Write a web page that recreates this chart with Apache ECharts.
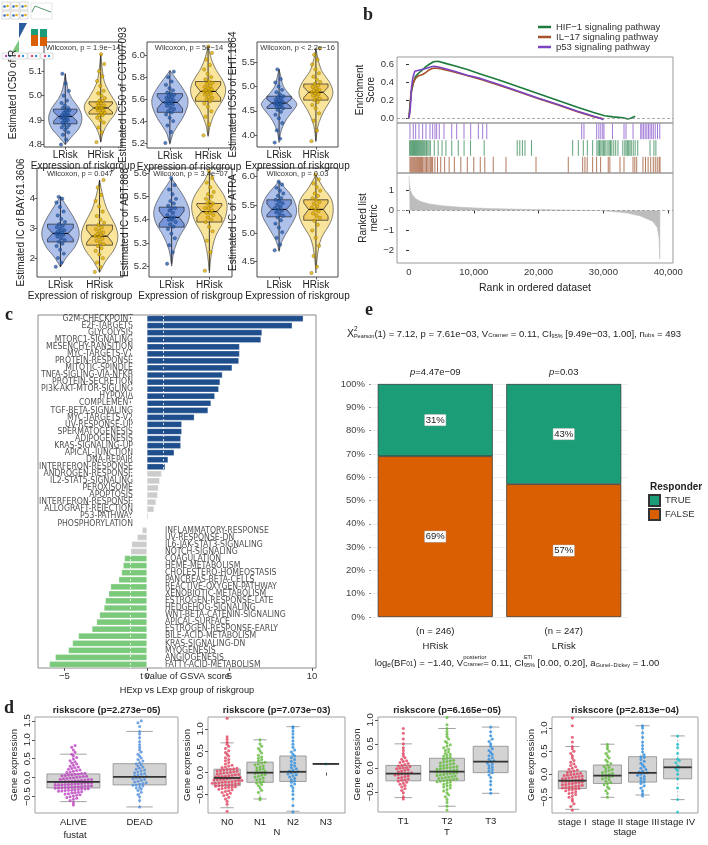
<!DOCTYPE html>
<html>
<head>
<meta charset="utf-8">
<script src="https://cdn.jsdelivr.net/npm/echarts@6/dist/echarts.min.js"></script>
<style>
html, body { margin: 0; padding: 0; background: #fff; }
#main { width: 708px; height: 845px; }
</style>
</head>
<body>
<div id="main"></div>
<script>
// ---------------- panel a : estimated IC50 by risk group ----------------
var riskGroups = ['LRisk', 'HRisk'];
var icYNames = ['Estimated IC50 of R', 'Estimated IC50 of CCT007093', 'Estimated IC50 of EHT.1864',
  'Estimated IC of BAY.61.3606', 'Estimated IC of ABT.888', 'Estimated IC of ATRA'];
var icPvals = ['Wilcoxon, p = 1.9e\u221214', 'Wilcoxon, p = 5e\u221214', 'Wilcoxon, p < 2.2e\u221216',
  'Wilcoxon, p = 0.047', 'Wilcoxon, p = 3.4e\u221207', 'Wilcoxon, p = 0.03'];
var icRanges = [[4.79, 5.22], [5.155, 6.12], [3.76, 5.91], [1.37, 5.0], [5.153, 5.623], [4.23, 6.15]];
var icTicks = [[4.8, 4.9, 5.0, 5.1], [5.2, 5.4, 5.6, 5.8, 6.0], [4.0, 4.5, 5.0, 5.5], [2, 3, 4],
  [5.2, 5.3, 5.4, 5.5, 5.6], [4.5, 5.0, 5.5, 6.0]];
var icDec = [1, 1, 1, 0, 1, 1];
// [lower whisker, q1, median, q3, upper whisker]
var icBoxL = [[4.80, 4.885, 4.915, 4.945, 5.09], [5.20, 5.48, 5.57, 5.65, 5.86], [3.93, 4.55, 4.66, 4.80, 5.35],
  [1.71, 2.54, 2.82, 3.13, 4.04], [5.21, 5.368, 5.41, 5.454, 5.58], [4.70, 5.29, 5.42, 5.59, 5.91]];
var icBoxH = [[4.81, 4.925, 4.95, 4.975, 5.17], [5.27, 5.58, 5.67, 5.76, 6.08], [3.89, 4.72, 4.88, 5.05, 5.78],
  [1.54, 2.43, 2.73, 3.10, 4.60], [5.18, 5.39, 5.435, 5.47, 5.61], [4.41, 5.23, 5.42, 5.59, 6.03]];
// violin outline: [value, half width]
var icViolinL = [
  [[4.80, 0], [4.83, 0.17], [4.87, 0.4], [4.91, 0.47], [4.95, 0.38], [4.99, 0.18], [5.03, 0.07], [5.09, 0]],
  [[5.19, 0], [5.30, 0.1], [5.42, 0.32], [5.52, 0.45], [5.60, 0.47], [5.68, 0.37], [5.78, 0.17], [5.86, 0]],
  [[3.85, 0], [4.10, 0.06], [4.35, 0.22], [4.55, 0.43], [4.65, 0.48], [4.80, 0.32], [5.00, 0.12], [5.20, 0.05], [5.35, 0]],
  [[1.70, 0], [2.00, 0.14], [2.40, 0.38], [2.80, 0.48], [3.20, 0.4], [3.60, 0.22], [4.05, 0]],
  [[5.20, 0], [5.27, 0.07], [5.33, 0.22], [5.39, 0.43], [5.44, 0.47], [5.50, 0.32], [5.55, 0.12], [5.58, 0]],
  [[4.68, 0], [4.85, 0.07], [5.05, 0.24], [5.30, 0.45], [5.45, 0.47], [5.65, 0.35], [5.80, 0.16], [5.92, 0]]
];
var icViolinH = [
  [[4.81, 0], [4.85, 0.07], [4.89, 0.22], [4.93, 0.42], [4.96, 0.46], [5.00, 0.3], [5.05, 0.12], [5.10, 0.05], [5.17, 0]],
  [[5.26, 0], [5.38, 0.07], [5.50, 0.22], [5.60, 0.4], [5.68, 0.46], [5.76, 0.4], [5.86, 0.22], [5.96, 0.09], [6.08, 0]],
  [[3.87, 0], [4.20, 0.06], [4.50, 0.22], [4.75, 0.42], [4.90, 0.46], [5.10, 0.36], [5.30, 0.17], [5.55, 0.06], [5.78, 0]],
  [[1.52, 0], [1.90, 0.16], [2.30, 0.38], [2.70, 0.47], [3.10, 0.4], [3.60, 0.2], [4.10, 0.08], [4.60, 0]],
  [[5.17, 0], [5.25, 0.05], [5.33, 0.17], [5.40, 0.4], [5.46, 0.47], [5.51, 0.37], [5.56, 0.16], [5.61, 0]],
  [[4.30, 0], [4.60, 0.04], [4.90, 0.14], [5.20, 0.4], [5.40, 0.47], [5.60, 0.42], [5.80, 0.2], [6.03, 0]]
];
var icPtsL = [
  [4.80, 4.82, 4.84, 4.85, 4.86, 4.87, 4.87, 4.88, 4.88, 4.89, 4.89, 4.90, 4.90, 4.91, 4.91, 4.91, 4.92, 4.92, 4.92, 4.93, 4.93, 4.94, 4.94, 4.95, 4.95, 4.96, 4.97, 4.98, 5.00, 5.02, 5.05, 5.09],
  [5.20, 5.30, 5.36, 5.40, 5.43, 5.46, 5.48, 5.49, 5.51, 5.52, 5.54, 5.55, 5.56, 5.57, 5.57, 5.58, 5.59, 5.60, 5.61, 5.62, 5.63, 5.64, 5.65, 5.66, 5.68, 5.70, 5.73, 5.76, 5.80, 5.85],
  [3.85, 3.93, 4.10, 4.25, 4.35, 4.42, 4.48, 4.52, 4.55, 4.58, 4.60, 4.62, 4.64, 4.65, 4.66, 4.67, 4.69, 4.71, 4.73, 4.76, 4.78, 4.80, 4.84, 4.88, 4.93, 5.00, 5.08, 5.15, 5.35],
  [1.71, 1.85, 2.00, 2.15, 2.28, 2.40, 2.48, 2.54, 2.60, 2.66, 2.72, 2.77, 2.80, 2.82, 2.85, 2.89, 2.93, 2.98, 3.03, 3.08, 3.13, 3.20, 3.30, 3.42, 3.55, 3.70, 3.85, 3.98, 4.04],
  [5.21, 5.26, 5.29, 5.32, 5.34, 5.36, 5.37, 5.38, 5.39, 5.40, 5.40, 5.41, 5.41, 5.42, 5.43, 5.44, 5.45, 5.45, 5.46, 5.47, 5.48, 5.49, 5.51, 5.53, 5.55, 5.58],
  [4.70, 4.80, 4.92, 5.02, 5.10, 5.17, 5.23, 5.28, 5.31, 5.34, 5.37, 5.40, 5.42, 5.44, 5.47, 5.50, 5.53, 5.56, 5.59, 5.62, 5.66, 5.70, 5.75, 5.80, 5.86, 5.91]
];
var icPtsH = [
  [4.81, 4.85, 4.87, 4.89, 4.90, 4.91, 4.92, 4.92, 4.93, 4.93, 4.94, 4.94, 4.95, 4.95, 4.95, 4.96, 4.96, 4.97, 4.97, 4.98, 4.98, 4.99, 5.00, 5.01, 5.02, 5.04, 5.06, 5.08, 5.10, 5.13, 5.17],
  [5.27, 5.37, 5.44, 5.49, 5.53, 5.56, 5.58, 5.60, 5.61, 5.62, 5.64, 5.65, 5.66, 5.67, 5.67, 5.68, 5.69, 5.70, 5.71, 5.72, 5.74, 5.75, 5.76, 5.78, 5.80, 5.83, 5.87, 5.91, 5.96, 6.02, 6.08],
  [3.88, 4.10, 4.30, 4.45, 4.55, 4.62, 4.68, 4.72, 4.75, 4.78, 4.81, 4.84, 4.86, 4.88, 4.89, 4.91, 4.93, 4.96, 4.99, 5.02, 5.05, 5.09, 5.14, 5.20, 5.27, 5.35, 5.45, 5.55, 5.65, 5.78],
  [1.54, 1.70, 1.85, 2.00, 2.12, 2.24, 2.33, 2.40, 2.46, 2.52, 2.58, 2.64, 2.70, 2.73, 2.76, 2.80, 2.85, 2.90, 2.96, 3.02, 3.10, 3.18, 3.28, 3.40, 3.55, 3.72, 3.90, 4.10, 4.35, 4.60],
  [5.18, 5.26, 5.31, 5.35, 5.37, 5.39, 5.40, 5.41, 5.42, 5.43, 5.43, 5.44, 5.45, 5.45, 5.46, 5.47, 5.47, 5.48, 5.49, 5.50, 5.51, 5.52, 5.54, 5.56, 5.58, 5.61],
  [4.30, 4.41, 4.60, 4.78, 4.92, 5.05, 5.15, 5.22, 5.27, 5.31, 5.35, 5.39, 5.42, 5.45, 5.48, 5.52, 5.55, 5.59, 5.62, 5.66, 5.70, 5.75, 5.81, 5.88, 5.95, 6.03]
];

// ---------------- panel b : GSEA ----------------
var gseaNames = ['HIF\u22121 signaling pathway', 'IL\u221217 signaling pathway', 'p53 signaling pathway'];
var esHIF = [[0, 0], [150, 0.15], [400, 0.30], [700, 0.40], [1000, 0.46], [1500, 0.50], [2000, 0.53], [2600, 0.57],
  [3200, 0.60], [3800, 0.625], [4500, 0.63], [5500, 0.61], [7000, 0.58], [9000, 0.54], [11000, 0.49], [14000, 0.42],
  [17000, 0.345], [20000, 0.27], [23000, 0.195], [26000, 0.12], [28500, 0.06], [30200, 0.025], [31500, 0.012],
  [33000, 0.002], [33800, -0.012], [34300, 0.0], [34900, 0.02]];
var esIL17 = [[0, 0], [150, 0.10], [300, 0.28], [600, 0.38], [1000, 0.44], [1500, 0.47], [2000, 0.48], [2500, 0.50],
  [3000, 0.53], [3600, 0.55], [4200, 0.555], [5000, 0.545], [6500, 0.52], [8500, 0.48], [11000, 0.43], [14000, 0.36],
  [17000, 0.29], [20000, 0.215], [23000, 0.145], [26000, 0.07], [28500, 0.015], [30000, -0.01]];
var esP53 = [[0, 0], [200, 0.10], [400, 0.35], [600, 0.45], [900, 0.52], [1200, 0.54], [2000, 0.54], [2600, 0.55],
  [3200, 0.565], [3800, 0.575], [4400, 0.57], [5500, 0.55], [7000, 0.52], [9000, 0.475], [11000, 0.44], [14000, 0.37],
  [17000, 0.295], [20000, 0.22], [23000, 0.15], [26000, 0.075], [28500, 0.02], [29600, -0.005], [30000, -0.02]];
var hitsHIF = [100, 250, 400, 550, 700, 850, 1000, 1150, 1300, 1450, 1600, 1750, 1900, 2050, 2200, 2350, 2500, 2700, 2900,
  3100, 3300, 3900, 4500, 5100, 5700, 6600, 7600, 8500, 9500, 11600, 16700, 17100, 17500, 17900, 18900, 25260, 26130,
  26900, 27520, 28340, 29000, 29200, 29400, 29600, 29800, 30000, 30200, 30400, 30700, 30900, 31100, 31300, 31600, 31900,
  32250, 33000, 33300, 33500, 33700, 33900, 34100, 34300, 34600, 34900, 35300, 37200, 37800, 38100];
var hitsIL17 = [150, 300, 450, 600, 750, 900, 1050, 1200, 1350, 1500, 1650, 1800, 1950, 2100, 2300, 2500, 2700, 2900, 3100,
  3300, 3500, 3650, 4000, 4400, 4900, 5500, 6200, 7000, 8000, 9000, 10000, 11000, 11700, 13000, 14970, 19600, 24580,
  26800, 27150, 27500, 28340, 28950, 29570, 30750, 31000, 32560, 33180, 34570, 34850, 35140, 36110, 36500, 36900, 37300,
  37700, 38000, 38300, 38600, 38740];
var hitsP53 = [150, 660, 1030, 1540, 2110, 2620, 3240, 3650, 4010, 4270, 4680, 5400, 6590, 7360, 8490, 9520, 10700, 11370,
  12000, 26650, 27000, 28960, 29300, 29600, 29900, 30090, 31400, 33180, 33490, 34570, 35760, 35950, 36200, 36450, 36700,
  36950, 37200, 37450, 37700, 38000, 38350, 38700];
var rankedMetric = [[0, 1.72], [30, 1.5], [100, 1.25], [250, 1.0], [500, 0.8], [1000, 0.6], [1800, 0.45], [3000, 0.34],
  [5000, 0.24], [8000, 0.16], [12000, 0.10], [17000, 0.06], [22000, 0.03], [26000, 0.01], [29000, 0], [31000, -0.04],
  [33500, -0.12], [35600, -0.27], [37600, -0.55], [38300, -0.85], [38600, -1.4], [38700, -2.45], [38720, 0]];
var rankTicks = [0, 10000, 20000, 30000, 40000];
var esTicks = [0, 0.2, 0.4, 0.6];
var metricTicks = [-2, -1, 0, 1];

// ---------------- panel c : GSVA t values ----------------
var hallmarkNames = ['G2M-CHECKPOINT', 'E2F-TARGETS', 'GLYCOLYSIS', 'MTORC1-SIGNALING', 'MESENCHY-RANSITION',
  'MYC-TARGETS-V1', 'PROTEIN-RESPONSE', 'MITOTIC-SPINDLE', 'TNFA-SIGLING-VIA-NFKB', 'PROTEIN-SECRETION',
  'PI3K-AKT-MTOR-SIGLING', 'HYPOXIA', 'COMPLEMENT', 'TGF-BETA-SIGNALING', 'MYC-TARGETS-V2', 'UV-RESPONSE-UP',
  'SPERMATOGENESIS', 'ADIPOGENESIS', 'KRAS-SIGNALING-UP', 'APICAL-JUNCTION', 'DNA-REPAIR', 'INTERFERON-RESPONSE',
  'ANDROGEN-RESPONSE', 'IL2-STAT5-SIGNALING', 'PEROXISOME', 'APOPTOSIS', 'INTERFERON-RESPONSE ', 'ALLOGRAFT-REJECTION',
  'P53-PATHWAY', 'PHOSPHORYLATION', 'INFLAMMATORY-RESPONSE', 'UV-RESPONSE-DN', 'IL6-JAK-STAT3-SIGNALING',
  'NOTCH-SIGNALING', 'COAGULATION', 'HEME-METABOLISM', 'CHOLESTERO-HOMEOSTASIS', 'PANCREAS-BETA-CELLS',
  'REACTIVE-OXYGEN-PATHWAY', 'XENOBIOTIC-METABOLISM', 'ESTROGEN-RESPONSE-LATE', 'HEDGEHOG-SIGNALING',
  'WNT-BETA-CATENIN-SIGNALING', 'APICAL-SURFACE', 'ESTROGEN-RESPONSE-EARLY', 'BILE-ACID-METABOLISM',
  'KRAS-SIGNALING-DN', 'MYOGENESIS', 'ANGIOGENESIS', 'FATTY-ACID-METABOLISM'];
var hallmarkT = [9.47, 8.80, 6.97, 6.91, 5.61, 5.61, 5.57, 5.16, 4.57, 4.43, 4.35, 4.11, 3.88, 3.70, 2.87, 2.11, 2.11,
  2.05, 2.05, 1.65, 1.28, 1.10, 0.89, 0.77, 0.69, 0.65, 0.55, 0.43, 0.08, 0.03, -0.29, -0.59, -0.93, -0.98, -1.36,
  -1.44, -1.54, -1.71, -2.20, -2.32, -2.52, -2.60, -2.87, -3.05, -3.33, -4.15, -4.51, -4.76, -5.55, -5.91];
var tCutoff = 1;
var tTicks = [-5, 0, 5, 10];

// ---------------- panel e : responder proportions ----------------
var eGroups = ['HRisk', 'LRisk'];
var eN = [246, 247];
var eTrue = [31, 43];
var eFalse = [69, 57];
var eP = ['4.47e\u221209', '0.03'];

// ---------------- panel d : riskscore by clinical group ----------------
var dTitles = ['riskscore (p=2.273e\u221205)', 'riskscore (p=7.073e\u221203)', 'riskscore (p=6.165e\u221205)', 'riskscore (p=2.813e\u221204)'];
var dXNames = ['fustat', 'N', 'T', 'stage'];
var dGroups = [['ALIVE', 'DEAD'], ['N0', 'N1', 'N2', 'N3'], ['T1', 'T2', 'T3'], ['stage I', 'stage II', 'stage III', 'stage IV']];
var dRanges = [[-0.93, 1.6], [-0.92, 1.27], [-0.92, 1.06], [-0.84, 1.24]];
var dTicks = [[-0.5, 0, 0.5, 1, 1.5], [-0.5, 0, 0.5, 1], [-0.5, 0, 0.5, 1], [-0.5, 0, 0.5, 1]];
var dBox = [
  [[-0.63, -0.27, -0.11, 0.10, 0.62], [-0.77, -0.19, 0.02, 0.37, 1.22]],
  [[-0.80, -0.30, -0.12, 0.08, 0.68], [-0.60, -0.22, 0.0, 0.24, 0.75], [-0.88, -0.20, 0.02, 0.38, 1.05], [0.2, 0.2, 0.2, 0.2, 0.2]],
  [[-0.62, -0.27, -0.12, 0.05, 0.50], [-0.80, -0.27, -0.08, 0.20, 0.82], [-0.53, -0.10, 0.13, 0.45, 0.85]],
  [[-0.76, -0.31, -0.14, 0.07, 0.60], [-0.50, -0.20, -0.03, 0.20, 0.65], [-0.45, -0.17, 0.03, 0.38, 1.05], [-0.55, -0.10, 0.15, 0.33, 0.83]]
];
var alive = [-0.95, -0.72, -0.66, -0.6, -0.57, -0.54, -0.52, -0.5, -0.48, -0.46, -0.45, -0.43, -0.42, -0.4, -0.39, -0.38,
  -0.37, -0.36, -0.35, -0.34, -0.33, -0.33, -0.32, -0.31, -0.3, -0.3, -0.29, -0.28, -0.28, -0.27, -0.26, -0.26, -0.25,
  -0.24, -0.24, -0.23, -0.22, -0.22, -0.21, -0.2, -0.2, -0.19, -0.18, -0.18, -0.17, -0.16, -0.16, -0.15, -0.14, -0.14,
  -0.13, -0.12, -0.12, -0.11, -0.1, -0.1, -0.09, -0.08, -0.08, -0.07, -0.06, -0.05, -0.05, -0.04, -0.03, -0.02, -0.01,
  0, 0.01, 0.02, 0.03, 0.04, 0.05, 0.06, 0.07, 0.08, 0.09, 0.1, 0.11, 0.12, 0.14, 0.15, 0.17, 0.19, 0.2, 0.22, 0.24,
  0.26, 0.28, 0.3, 0.33, 0.36, 0.39, 0.42, 0.45, 0.49, 0.53, 0.57, 0.62, 0.67, 0.73, 0.8, 0.85];
var dead = [-0.77, -0.6, -0.5, -0.44, -0.38, -0.34, -0.3, -0.27, -0.25, -0.22, -0.2, -0.19, -0.17, -0.15, -0.13, -0.11,
  -0.09, -0.07, -0.05, -0.03, -0.01, 0, 0.02, 0.03, 0.05, 0.07, 0.09, 0.11, 0.13, 0.15, 0.18, 0.2, 0.22, 0.25, 0.28,
  0.31, 0.34, 0.37, 0.4, 0.44, 0.48, 0.52, 0.57, 0.62, 0.68, 0.74, 0.8, 0.87, 0.95, 1.05, 1.15, 1.22, 1.35, 1.45, 1.5];
var n0 = [-0.88, -0.72, -0.65, -0.6, -0.56, -0.52, -0.5, -0.47, -0.45, -0.43, -0.41, -0.39, -0.38, -0.36, -0.35, -0.34,
  -0.33, -0.32, -0.31, -0.3, -0.29, -0.28, -0.28, -0.27, -0.26, -0.25, -0.24, -0.24, -0.23, -0.22, -0.21, -0.21, -0.2,
  -0.19, -0.18, -0.18, -0.17, -0.16, -0.15, -0.15, -0.14, -0.13, -0.12, -0.12, -0.11, -0.1, -0.09, -0.09, -0.08, -0.07,
  -0.06, -0.05, -0.04, -0.03, -0.02, -0.01, 0, 0.01, 0.02, 0.03, 0.04, 0.05, 0.06, 0.07, 0.08, 0.09, 0.1, 0.12, 0.13,
  0.15, 0.17, 0.2, 0.23, 0.27, 0.3, 0.34, 0.38, 0.42, 0.46, 0.5, 0.55, 0.6, 0.65, 0.7, 0.76, 0.82, 1.24];
var n1 = [-0.62, -0.58, -0.45, -0.4, -0.35, -0.3, -0.27, -0.24, -0.22, -0.2, -0.17, -0.15, -0.12, -0.1, -0.08, -0.06,
  -0.04, -0.02, 0, 0.01, 0.03, 0.05, 0.07, 0.09, 0.11, 0.13, 0.15, 0.18, 0.2, 0.22, 0.24, 0.27, 0.3, 0.33, 0.36, 0.4,
  0.45, 0.5, 0.55, 0.6, 0.66, 0.75];
var n2 = [-0.9, -0.75, -0.6, -0.5, -0.42, -0.35, -0.3, -0.26, -0.22, -0.19, -0.16, -0.13, -0.1, -0.07, -0.05, -0.03,
  -0.01, 0.01, 0.02, 0.04, 0.06, 0.09, 0.12, 0.15, 0.18, 0.22, 0.26, 0.3, 0.34, 0.38, 0.42, 0.47, 0.52, 0.58, 0.65,
  0.72, 0.8, 0.88, 0.95, 1.02, 1.05];
var n3 = [0.2];
var t1 = [-0.65, -0.6, -0.52, -0.47, -0.43, -0.4, -0.37, -0.34, -0.32, -0.3, -0.28, -0.26, -0.25, -0.23, -0.21, -0.2,
  -0.18, -0.17, -0.15, -0.14, -0.13, -0.12, -0.11, -0.1, -0.08, -0.07, -0.05, -0.04, -0.02, -0.01, 0, 0.01, 0.03, 0.04,
  0.05, 0.07, 0.09, 0.11, 0.13, 0.15, 0.18, 0.21, 0.25, 0.3, 0.36, 0.42, 0.5, 0.6, 0.72, 0.82];
var t2 = [-0.88, -0.8, -0.72, -0.66, -0.6, -0.56, -0.52, -0.48, -0.45, -0.42, -0.4, -0.38, -0.36, -0.34, -0.32, -0.3,
  -0.29, -0.28, -0.27, -0.26, -0.25, -0.24, -0.23, -0.22, -0.21, -0.2, -0.19, -0.18, -0.17, -0.16, -0.15, -0.14, -0.13,
  -0.12, -0.11, -0.1, -0.09, -0.08, -0.08, -0.07, -0.06, -0.05, -0.04, -0.03, -0.02, -0.01, 0, 0.01, 0.02, 0.03, 0.04,
  0.05, 0.06, 0.08, 0.09, 0.1, 0.12, 0.13, 0.15, 0.16, 0.18, 0.2, 0.22, 0.24, 0.26, 0.28, 0.3, 0.33, 0.36, 0.39, 0.42,
  0.45, 0.48, 0.52, 0.55, 0.6, 0.65, 0.7, 0.76, 0.82, 0.9, 1.05];
var t3 = [-0.53, -0.45, -0.35, -0.28, -0.2, -0.15, -0.1, -0.07, -0.04, -0.01, 0.02, 0.05, 0.08, 0.1, 0.13, 0.15, 0.18,
  0.21, 0.25, 0.28, 0.32, 0.36, 0.4, 0.45, 0.5, 0.55, 0.6, 0.67, 0.75, 0.85];
var stage1 = [-0.78, -0.7, -0.64, -0.58, -0.54, -0.5, -0.47, -0.44, -0.42, -0.4, -0.38, -0.36, -0.34, -0.33, -0.32,
  -0.31, -0.3, -0.29, -0.28, -0.27, -0.26, -0.25, -0.24, -0.23, -0.22, -0.21, -0.2, -0.19, -0.18, -0.17, -0.16, -0.16,
  -0.15, -0.14, -0.13, -0.12, -0.11, -0.1, -0.09, -0.08, -0.07, -0.06, -0.05, -0.04, -0.03, -0.02, -0.01, 0, 0.01, 0.02,
  0.04, 0.05, 0.07, 0.09, 0.11, 0.13, 0.16, 0.19, 0.22, 0.26, 0.3, 0.35, 0.4, 0.45, 0.5, 0.55, 0.6, 0.7, 0.8, 1.05, 1.22];
var stage2 = [-0.5, -0.42, -0.36, -0.31, -0.27, -0.23, -0.2, -0.18, -0.15, -0.12, -0.1, -0.08, -0.06, -0.04, -0.03,
  -0.01, 0, 0.02, 0.04, 0.06, 0.08, 0.1, 0.12, 0.15, 0.17, 0.2, 0.23, 0.27, 0.31, 0.35, 0.4, 0.45, 0.5, 0.55, 0.6, 0.65];
var stage3 = [-0.47, -0.42, -0.36, -0.3, -0.25, -0.2, -0.17, -0.14, -0.11, -0.08, -0.05, -0.02, 0, 0.02, 0.03, 0.05,
  0.07, 0.1, 0.13, 0.16, 0.2, 0.24, 0.28, 0.32, 0.36, 0.38, 0.42, 0.48, 0.55, 0.62, 0.7, 0.8, 0.9, 1.0, 1.05];
var stage4 = [-0.82, -0.55, -0.3, -0.1, 0.0, 0.08, 0.12, 0.15, 0.18, 0.25, 0.3, 0.33, 0.45, 0.58, 0.65, 0.83];
var dPts = [[alive, dead], [n0, n1, n2, n3], [t1, t2, t3], [stage1, stage2, stage3, stage4]];

// ================= build chart =================
var FONT = '"Liberation Sans", Arial, sans-serif';
var NARROW = '"Liberation Sans Narrow", "DejaVu Sans Condensed", "Liberation Sans", sans-serif';
var INK = '#222';
var grid = [], xAxis = [], yAxis = [], series = [], graphic = [];

function minus(v, d) { return (v < 0 ? '\u2212' : '') + Math.abs(v).toFixed(d); }
function addGrid(l, t, w, h, border) {
  grid.push({ left: l, top: t, width: w, height: h, show: !!border, borderColor: border || 'transparent',
    borderWidth: 1, backgroundColor: 'transparent', outerBoundsMode: 'none', containLabel: false });
  return grid.length - 1;
}
// axis push helpers return the index of the axis in its own list
function addX(o) { xAxis.push(o); return xAxis.length - 1; }
function addY(o) { yAxis.push(o); return yAxis.length - 1; }
function txt(x, y, s, size, opt) {
  opt = opt || {};
  graphic.push({ type: 'text', x: x, y: y, rotation: opt.rot || 0, z: 50, silent: true,
    style: { text: s, fontSize: size, fontFamily: opt.font || FONT, fontWeight: opt.bold ? 'bold' : 'normal',
      fontStyle: opt.italic ? 'italic' : 'normal', fill: opt.color || INK,
      textAlign: opt.align || 'center', textVerticalAlign: 'middle' } });
}
var mctx = document.createElement('canvas').getContext('2d');
function textW(s, size) { mctx.font = size + 'px "Liberation Sans"'; return mctx.measureText(s).width; }
// text line built from fragments (sub/superscripts)
function segLine(cx, y, segs) {
  var total = 0;
  segs.forEach(function (s) { if (!s.over) total += textW(s.t, s.s); });
  var x = cx - total / 2;
  segs.forEach(function (s) {
    txt(x, y + (s.dy || 0), s.t, s.s, { align: 'left', italic: s.it });
    if (!s.over) x += textW(s.t, s.s);
  });
}

// ----- panel a -----
var icPos = [[44, 42, 78, 105, 26], [147, 42, 84, 106, 12], [257, 42, 81, 105, 11],
  [37, 168, 86, 109, 9], [149, 168, 83, 109, 14], [257, 168, 81, 109, 12]];
var icFill = [{ vio: 'rgba(160,182,232,0.85)', box: 'rgba(104,138,214,0.8)', pt: '#2a62b2', edge: '#0c2a58' },
  { vio: 'rgba(250,226,146,0.9)', box: 'rgba(240,200,86,0.85)', pt: '#e3b300', edge: '#6a5100' }];

icYNames.forEach(function (name, i) {
  var p = icPos[i];
  var g = addGrid(p[0], p[1], p[2], p[3], '#4a4a4a');
  var xi = addX({ gridIndex: g, type: 'value', min: 0.4, max: 2.6, splitLine: { show: false }, axisLine: { show: false },
    axisTick: { show: true, customValues: [1, 2], length: 2.5, lineStyle: { color: '#333', width: 0.8 } },
    axisLabel: { customValues: [1, 2], formatter: function (v) { return riskGroups[Math.round(v) - 1]; },
      fontSize: 10, color: INK, margin: 3, fontFamily: FONT },
    name: 'Expression of riskgroup', nameLocation: 'middle', nameGap: 13,
    nameTextStyle: { fontSize: 10, color: INK, fontFamily: FONT } });
  var yi = addY({ gridIndex: g, type: 'value', min: icRanges[i][0], max: icRanges[i][1], splitLine: { show: false },
    axisLine: { show: false },
    axisTick: { show: true, customValues: icTicks[i], length: 2.5, lineStyle: { color: '#333', width: 0.8 } },
    axisLabel: { customValues: icTicks[i], formatter: function (v) { return v.toFixed(icDec[i]); },
      fontSize: 9.5, color: '#333', margin: 2, fontFamily: FONT },
    name: name, nameLocation: 'middle', nameGap: p[4], nameTextStyle: { fontSize: 10, color: INK, fontFamily: FONT } });

  var profiles = [icViolinL[i], icViolinH[i]];
  var stats = [icBoxL[i], icBoxH[i]];
  series.push({ type: 'custom', xAxisIndex: xi, yAxisIndex: yi, silent: true, z: 1, clip: true,
    data: [[1, stats[0][2]], [2, stats[1][2]]],
    renderItem: function (params, api) {
      var prof = profiles[params.dataIndex], cx = api.value(0), pts = [], k;
      for (k = 0; k < prof.length; k++) pts.push(api.coord([cx + prof[k][1], prof[k][0]]));
      for (k = prof.length - 1; k >= 0; k--) pts.push(api.coord([cx - prof[k][1], prof[k][0]]));
      return { type: 'polygon', shape: { points: pts, smooth: 0.35 },
        style: { fill: icFill[params.dataIndex].vio, stroke: '#333', lineWidth: 0.6 } };
    } });
  series.push({ type: 'custom', xAxisIndex: xi, yAxisIndex: yi, silent: true, z: 2, clip: true,
    data: [[1, stats[0][2]], [2, stats[1][2]]],
    renderItem: function (params, api) {
      var s = stats[params.dataIndex], cx = api.value(0), w = 0.33, nw = 0.2;
      var notch = (s[3] - s[1]) * 0.32;
      var c = function (dx, v) { return api.coord([cx + dx, v]); };
      var poly = [c(-w, s[1]), c(w, s[1]), c(w, s[2] - notch), c(nw, s[2]), c(w, s[2] + notch), c(w, s[3]),
        c(-w, s[3]), c(-w, s[2] + notch), c(-nw, s[2]), c(-w, s[2] - notch)];
      var top = c(0, s[4]), bot = c(0, s[0]), m1 = c(-nw, s[2]), m2 = c(nw, s[2]);
      return { type: 'group', children: [
        { type: 'line', shape: { x1: top[0], y1: top[1], x2: bot[0], y2: bot[1] }, style: { stroke: '#111', lineWidth: 0.8 } },
        { type: 'polygon', shape: { points: poly }, style: { fill: icFill[params.dataIndex].box, stroke: '#222', lineWidth: 0.7 } },
        { type: 'line', shape: { x1: m1[0], y1: m1[1], x2: m2[0], y2: m2[1] }, style: { stroke: '#111', lineWidth: 1.2 } }
      ] };
    } });
  var pts = [];
  [icPtsL[i], icPtsH[i]].forEach(function (arr, gi) {
    arr.forEach(function (v, k) {
      pts.push({ value: [gi + 1 + ((k * 0.618034) % 1 - 0.5) * 0.24, v],
        itemStyle: { color: icFill[gi].pt, borderColor: icFill[gi].edge, borderWidth: 0.4 } });
    });
  });
  series.push({ type: 'scatter', xAxisIndex: xi, yAxisIndex: yi, silent: true, z: 3, symbolSize: 3.4, data: pts });
  txt(p[0] + p[2] / 2, p[1] + 6, icPvals[i], 7.5, { color: '#333' });
});

// ----- panel b -----
var rankMin = -1850, rankMax = 40740;
var gEs = addGrid(397, 57, 276, 66, '#9a9a9a');
var gHit = addGrid(397, 123, 276, 50, '#9a9a9a');
var gMet = addGrid(397, 173, 276, 90, '#9a9a9a');
var xEs = addX({ gridIndex: gEs, type: 'value', min: rankMin, max: rankMax, show: false });
var xHit = addX({ gridIndex: gHit, type: 'value', min: rankMin, max: rankMax, show: false });
var xMet = addX({ gridIndex: gMet, type: 'value', min: rankMin, max: rankMax, splitLine: { show: false },
  axisLine: { show: false },
  axisTick: { show: true, customValues: rankTicks, length: 3, lineStyle: { color: '#333' } },
  axisLabel: { customValues: rankTicks, fontSize: 9.5, color: '#333', margin: 4, fontFamily: FONT },
  name: 'Rank in ordered dataset', nameLocation: 'middle', nameGap: 20,
  nameTextStyle: { fontSize: 10.5, color: INK, fontFamily: FONT } });
var yEs = addY({ gridIndex: gEs, type: 'value', min: -0.056, max: 0.678, splitLine: { show: false }, axisLine: { show: false },
  axisTick: { show: true, customValues: esTicks, length: 3, lineStyle: { color: '#333' } },
  axisLabel: { customValues: esTicks, formatter: function (v) { return v.toFixed(1); }, fontSize: 9.5, color: '#333', margin: 3, fontFamily: FONT },
  name: 'Enrichment\nScore', nameLocation: 'middle', nameGap: 16,
  nameTextStyle: { fontSize: 10, color: INK, lineHeight: 11, fontFamily: FONT } });
var yHit = addY({ gridIndex: gHit, type: 'value', min: 0, max: 3, show: false });
var yMet = addY({ gridIndex: gMet, type: 'value', min: -2.65, max: 1.89, splitLine: { show: false }, axisLine: { show: false },
  axisTick: { show: true, customValues: metricTicks, length: 3, lineStyle: { color: '#333' } },
  axisLabel: { customValues: metricTicks, formatter: function (v) { return minus(v, 0); }, fontSize: 9.5, color: '#333', margin: 3, fontFamily: FONT },
  name: 'Ranked list\nmetric', nameLocation: 'middle', nameGap: 16,
  nameTextStyle: { fontSize: 10, color: INK, lineHeight: 11, fontFamily: FONT } });

var gseaColors = ['#1c7a3c', '#a4522a', '#7b45c2'];
var zeroLine = { silent: true, symbol: ['none', 'none'], label: { show: false },
  lineStyle: { type: [3, 2], color: '#888', width: 0.7 }, data: [{ yAxis: 0 }] };
[esHIF, esIL17, esP53].forEach(function (d, k) {
  series.push({ type: 'line', name: gseaNames[k], xAxisIndex: xEs, yAxisIndex: yEs, data: d, showSymbol: false,
    symbol: 'none', silent: true, z: 3 + k, color: gseaColors[k], lineStyle: { width: 1.6, color: gseaColors[k] },
    markLine: k === 0 ? zeroLine : undefined });
});
var hitRows = [];
hitsIL17.forEach(function (r) { hitRows.push([r, 0]); });
hitsHIF.forEach(function (r) { hitRows.push([r, 1]); });
hitsP53.forEach(function (r) { hitRows.push([r, 2]); });
var hitColors = ['#9c4f2a', '#2e8550', '#8450cc'];
series.push({ type: 'custom', xAxisIndex: xHit, yAxisIndex: yHit, silent: true, clip: true, data: hitRows,
  renderItem: function (params, api) {
    var r = api.value(1), a = api.coord([api.value(0), r + 0.03]), b = api.coord([api.value(0), r + 0.97]);
    return { type: 'line', shape: { x1: a[0], y1: a[1], x2: b[0], y2: b[1] },
      style: { stroke: hitColors[r], lineWidth: 0.9, opacity: 0.85 } };
  } });
series.push({ type: 'line', xAxisIndex: xMet, yAxisIndex: yMet, data: rankedMetric, showSymbol: false, symbol: 'none',
  silent: true, lineStyle: { width: 0.6, color: '#bdbdbd' }, areaStyle: { color: '#bdbdbd', opacity: 1 },
  markLine: zeroLine });

// ----- panel c -----
var gC = addGrid(38, 315, 278, 353, '#8a8a8a');
var xC = addX({ gridIndex: gC, type: 'value', min: -6.6, max: 10.24, splitLine: { show: false }, axisLine: { show: false },
  axisTick: { show: true, customValues: tTicks, length: 3, lineStyle: { color: '#555' } },
  axisLabel: { customValues: tTicks, formatter: function (v) { return minus(v, 0); }, fontSize: 9.5, color: '#333', margin: 3, fontFamily: FONT } });
var yC = addY({ gridIndex: gC, type: 'category', data: hallmarkNames, inverse: true, show: false });
series.push({ type: 'bar', xAxisIndex: xC, yAxisIndex: yC, silent: true, barCategoryGap: '12%',
  data: hallmarkT.map(function (t) {
    return { value: t, itemStyle: { color: t >= tCutoff ? '#1f4e8d' : (t <= -tCutoff ? '#7bc97b' : '#cccccc') } };
  }),
  itemStyle: { borderColor: 'rgba(255,255,255,0.5)', borderWidth: 0.5 },
  markLine: { silent: true, symbol: ['none', 'none'], label: { show: false },
    lineStyle: { color: '#fff', type: [2, 2], width: 0.8 }, data: [{ xAxis: tCutoff }, { xAxis: -tCutoff }] } });
var cLab = { fontSize: 8.6, color: INK, fontFamily: NARROW };
series.push({ type: 'scatter', xAxisIndex: xC, yAxisIndex: yC, silent: true, symbolSize: 0,
  data: hallmarkNames.filter(function (n, i) { return hallmarkT[i] > 0; }).map(function (n) { return [0, n]; }),
  label: Object.assign({ show: true, position: 'left', distance: 14, formatter: function (p) { return p.value[1].trim(); } }, cLab) });
series.push({ type: 'scatter', xAxisIndex: xC, yAxisIndex: yC, silent: true, symbolSize: 0,
  data: hallmarkNames.filter(function (n, i) { return hallmarkT[i] < 0; }).map(function (n) { return [0, n]; }),
  label: Object.assign({ show: true, position: 'right', distance: 18, formatter: function (p) { return p.value[1].trim(); } }, cLab) });
txt(185, 676, 't value of GSVA score', 9.2);
txt(187, 690, 'HExp vs LExp group of riskgroup', 9.2);

// ----- panel e -----
var gE = addGrid(371, 384, 257, 233, null);
var xE = addX({ gridIndex: gE, type: 'category', data: eGroups, axisLine: { show: false }, axisTick: { show: false },
  axisLabel: { formatter: function (v, idx) { return '(n = ' + eN[idx] + ')\n' + v; }, lineHeight: 15, fontSize: 9.5,
    color: INK, margin: 7, fontFamily: FONT } });
addX({ gridIndex: gE, type: 'category', position: 'top', data: eGroups, axisLine: { show: false }, axisTick: { show: false },
  axisLabel: { formatter: function (v, idx) { return '{i|p}=' + eP[idx]; }, fontSize: 9.5, color: INK, margin: 7,
    fontFamily: FONT, rich: { i: { fontStyle: 'italic', fontSize: 9.5, fontFamily: FONT } } } });
var yE = addY({ gridIndex: gE, type: 'value', min: 0, max: 100, interval: 10, axisLine: { show: false },
  axisTick: { show: true, length: 2, lineStyle: { color: '#999' } },
  axisLabel: { formatter: '{value}%', fontSize: 9.5, color: '#444', margin: 6, fontFamily: FONT },
  splitLine: { show: true, lineStyle: { color: '#e6e6e6', width: 0.7 } },
  minorTick: { show: false, splitNumber: 2 }, minorSplitLine: { show: true, lineStyle: { color: '#f3f3f3', width: 0.5 } } });
var eLabel = { show: true, position: 'inside', formatter: '{c}%', fontSize: 9.5, color: INK, fontFamily: FONT,
  backgroundColor: '#fff', padding: [1, 1, 0, 1], borderColor: '#aaa', borderWidth: 0.4 };
series.push({ type: 'bar', name: 'FALSE', xAxisIndex: xE, yAxisIndex: yE, stack: 'resp', barWidth: 115, data: eFalse,
  silent: true, color: '#d95f02', itemStyle: { color: '#d95f02', borderColor: '#333', borderWidth: 0.7 }, label: eLabel });
series.push({ type: 'bar', name: 'TRUE', xAxisIndex: xE, yAxisIndex: yE, stack: 'resp', barWidth: 115, data: eTrue,
  silent: true, color: '#1b9e77', itemStyle: { color: '#1b9e77', borderColor: '#333', borderWidth: 0.7 }, label: eLabel });
txt(650, 487, 'Responder', 10, { bold: true, align: 'left' });
segLine(514, 334, [{ t: 'X', s: 10.5 }, { t: '2', s: 6.5, dy: -5, over: true }, { t: 'Pearson', s: 5.5, dy: 2.5 },
  { t: '(1) = 7.12, p = 7.61e\u221203, V', s: 9.5 }, { t: 'Cramer', s: 6, dy: 1.5 }, { t: ' = 0.11, CI', s: 9.5 },
  { t: '95%', s: 5.5, dy: 2 }, { t: ' [9.49e\u221203, 1.00], n', s: 9.5 }, { t: 'obs', s: 6, dy: 1.5 }, { t: ' = 493', s: 9.5 }]);
segLine(517, 663, [{ t: 'log', s: 9.5 }, { t: 'e', s: 6.5, dy: 2 }, { t: '(BF', s: 9.5 }, { t: '01', s: 6.5, dy: 1 },
  { t: ') = \u22121.40, V', s: 9.5 }, { t: 'posterior', s: 6, dy: -6, over: true }, { t: 'Cramer', s: 6, dy: 1.5 },
  { t: '= 0.11, CI', s: 9.5 }, { t: 'ETI', s: 5.5, dy: -6, over: true }, { t: '95%', s: 5.5, dy: 2 },
  { t: ' [0.00, 0.20], a', s: 9.5 }, { t: 'Gunel\u2212Dickey', s: 5.5, dy: 2 }, { t: ' = 1.00', s: 9.5 }]);

// ----- panel d -----
var dPos = [[35, 717, 143, 96], [208, 717, 137, 96], [378, 717, 138, 95], [552, 717, 146, 96]];
var dXNamePos = [[75, 835], [277, 832], [447, 832], [625, 832]];
var dColors = [['#bb3fc0', '#4f8fe0'], ['#e4405e', '#62bb3a', '#2d8ee0', '#1abfcb'], ['#e4405e', '#62bb3a', '#2d8ee0'],
  ['#e4405e', '#62bb3a', '#2d8ee0', '#1abfcb']];
dGroups.forEach(function (groups, i) {
  var p = dPos[i], n = groups.length, bw = 0.8;
  var g = addGrid(p[0], p[1], p[2], p[3], '#a0a0a0');
  var cats = groups.map(function (_, k) { return k + 1; });
  var xi = addX({ gridIndex: g, type: 'value', min: 0.42, max: n + 0.58, splitLine: { show: false }, axisLine: { show: false },
    axisTick: { show: true, customValues: cats, length: 3, lineStyle: { color: '#555' } },
    axisLabel: { customValues: cats, formatter: function (v) { return groups[Math.round(v) - 1]; }, fontSize: 9.5,
      color: INK, margin: 4, fontFamily: FONT } });
  var yi = addY({ gridIndex: g, type: 'value', min: dRanges[i][0], max: dRanges[i][1], splitLine: { show: false },
    axisLine: { show: false },
    axisTick: { show: true, customValues: dTicks[i], length: 3, lineStyle: { color: '#555' } },
    axisLabel: { customValues: dTicks[i], rotate: 90, formatter: function (v) { return minus(v, 1); }, fontSize: 9.5,
      color: INK, margin: 3, fontFamily: FONT },
    name: 'Gene expression', nameLocation: 'middle', nameGap: 16, nameTextStyle: { fontSize: 9.5, color: INK, fontFamily: FONT } });
  var stats = dBox[i];
  var boxData = stats.map(function (s, k) { return [k + 1, s[2]]; });
  series.push({ type: 'custom', xAxisIndex: xi, yAxisIndex: yi, silent: true, z: 2, clip: true, data: boxData,
    renderItem: function (params, api) {
      var s = stats[params.dataIndex], c = api.value(0), h = bw / 2, gray = '#8c8c8c';
      var tl = api.coord([c - h, s[3]]), br = api.coord([c + h, s[1]]);
      var wt = api.coord([c, s[4]]), wb = api.coord([c, s[0]]);
      var cap = (br[0] - tl[0]) / 4;
      var ls = { stroke: gray, lineWidth: 0.8 };
      return { type: 'group', children: [
        { type: 'line', shape: { x1: wt[0], y1: wt[1], x2: wt[0], y2: tl[1] }, style: { stroke: '#aaa', lineWidth: 0.8, lineDash: [2, 2] } },
        { type: 'line', shape: { x1: wb[0], y1: br[1], x2: wb[0], y2: wb[1] }, style: { stroke: '#aaa', lineWidth: 0.8, lineDash: [2, 2] } },
        { type: 'line', shape: { x1: wt[0] - cap, y1: wt[1], x2: wt[0] + cap, y2: wt[1] }, style: ls },
        { type: 'line', shape: { x1: wb[0] - cap, y1: wb[1], x2: wb[0] + cap, y2: wb[1] }, style: ls },
        { type: 'rect', shape: { x: tl[0], y: tl[1], width: br[0] - tl[0], height: br[1] - tl[1] },
          style: { fill: '#d3d3d3', stroke: gray, lineWidth: 0.8 } }
      ] };
    } });
  // beeswarm: values that fall in the same small band are laid side by side
  var binH = 3.1 * (dRanges[i][1] - dRanges[i][0]) / p[3];
  var pts = [];
  dPts[i].forEach(function (vals, k) {
    var bins = {};
    vals.forEach(function (v) { var b = Math.round(v / binH); (bins[b] = bins[b] || []).push(v); });
    Object.keys(bins).forEach(function (b) {
      var arr = bins[b], m = arr.length;
      arr.forEach(function (v, j) {
        pts.push({ value: [k + 1, v], symbolOffset: [(j - (m - 1) / 2) * 3.3, 0], itemStyle: { color: dColors[i][k] } });
      });
    });
  });
  series.push({ type: 'scatter', xAxisIndex: xi, yAxisIndex: yi, silent: true, z: 3, symbolSize: 3, data: pts });
  series.push({ type: 'custom', xAxisIndex: xi, yAxisIndex: yi, silent: true, z: 4, clip: true, data: boxData,
    renderItem: function (params, api) {
      var s = stats[params.dataIndex], c = api.value(0);
      var a = api.coord([c - bw / 2, s[2]]), b = api.coord([c + bw / 2, s[2]]);
      return { type: 'line', shape: { x1: a[0], y1: a[1], x2: b[0], y2: b[1] }, style: { stroke: '#333', lineWidth: 1.8 } };
    } });
  txt(p[0] + p[2] / 2, 710, dTitles[i], 9.5, { bold: true });
  txt(dXNamePos[i][0], dXNamePos[i][1], dXNames[i], 9.5);
});

// ----- panel letters -----
var SERIF = '"Liberation Serif", "DejaVu Serif", serif';
txt(368, 15, 'b', 18, { bold: true, font: SERIF });
txt(9, 315, 'c', 18, { bold: true, font: SERIF });
txt(9, 708, 'd', 18, { bold: true, font: SERIF });
txt(369, 310, 'e', 18, { bold: true, font: SERIF });

// ----- tiny overview thumbnail in the corner -----
var thumb = [];
[[2, 2], [11, 2], [20, 2], [2, 11], [11, 11], [20, 11]].forEach(function (q) {
  thumb.push({ type: 'rect', shape: { x: q[0], y: q[1], width: 8, height: 8 }, style: { fill: '#fff', stroke: '#bbb', lineWidth: 0.5 } });
  thumb.push({ type: 'circle', shape: { cx: q[0] + 2.5, cy: q[1] + 4.5, r: 1.3 }, style: { fill: '#3a6fc0' } });
  thumb.push({ type: 'circle', shape: { cx: q[0] + 5.5, cy: q[1] + 4, r: 1.3 }, style: { fill: '#e0b020' } });
});
thumb.push({ type: 'rect', shape: { x: 31, y: 3, width: 21, height: 16 }, style: { fill: '#fff', stroke: '#ccc', lineWidth: 0.5 } });
thumb.push({ type: 'polyline', shape: { points: [[32, 12], [35, 6], [48, 11], [51, 12]] }, style: { stroke: '#2e7d4a', lineWidth: 0.8, fill: null } });
thumb.push({ type: 'polygon', shape: { points: [[19, 23], [27, 23], [19, 38]] }, style: { fill: '#2a5c9e' } });
thumb.push({ type: 'polygon', shape: { points: [[19, 40], [19, 52], [12, 52]] }, style: { fill: '#7cc87c' } });
thumb.push({ type: 'rect', shape: { x: 31, y: 29, width: 7, height: 6 }, style: { fill: '#1b9e77' } });
thumb.push({ type: 'rect', shape: { x: 31, y: 35, width: 7, height: 11 }, style: { fill: '#d95f02' } });
thumb.push({ type: 'rect', shape: { x: 40, y: 29, width: 7, height: 8 }, style: { fill: '#1b9e77' } });
thumb.push({ type: 'rect', shape: { x: 40, y: 37, width: 7, height: 9 }, style: { fill: '#d95f02' } });
[2, 15, 28, 41].forEach(function (x, k) {
  thumb.push({ type: 'rect', shape: { x: x, y: 53, width: 12, height: 6 }, style: { fill: '#fff', stroke: '#bbb', lineWidth: 0.5 } });
  thumb.push({ type: 'circle', shape: { cx: x + 4, cy: 56, r: 1.2 }, style: { fill: k ? '#e4405e' : '#bb3fc0' } });
  thumb.push({ type: 'circle', shape: { cx: x + 8, cy: 56, r: 1.2 }, style: { fill: '#2d8ee0' } });
});
graphic.push({ type: 'group', silent: true, z: 60, children: thumb });

var option = {
  animation: false,
  backgroundColor: '#fff',
  textStyle: { fontFamily: FONT },
  grid: grid,
  xAxis: xAxis,
  yAxis: yAxis,
  legend: [
    { data: gseaNames, left: 538, top: 22, orient: 'vertical', itemGap: 0, itemWidth: 13, itemHeight: 2.5, icon: 'rect',
      selectedMode: false, padding: 0, textStyle: { fontSize: 9.5, color: '#333', lineHeight: 9, fontFamily: FONT } },
    { data: ['TRUE', 'FALSE'], left: 648, top: 494, orient: 'vertical', itemGap: 1, itemWidth: 11, itemHeight: 11,
      icon: 'rect', selectedMode: false, padding: 0, textStyle: { fontSize: 9.5, color: '#333', fontFamily: FONT } }
  ],
  series: series,
  graphic: graphic
};
var chart = echarts.init(document.getElementById('main'));
chart.setOption(option);
</script>
</body>
</html>
